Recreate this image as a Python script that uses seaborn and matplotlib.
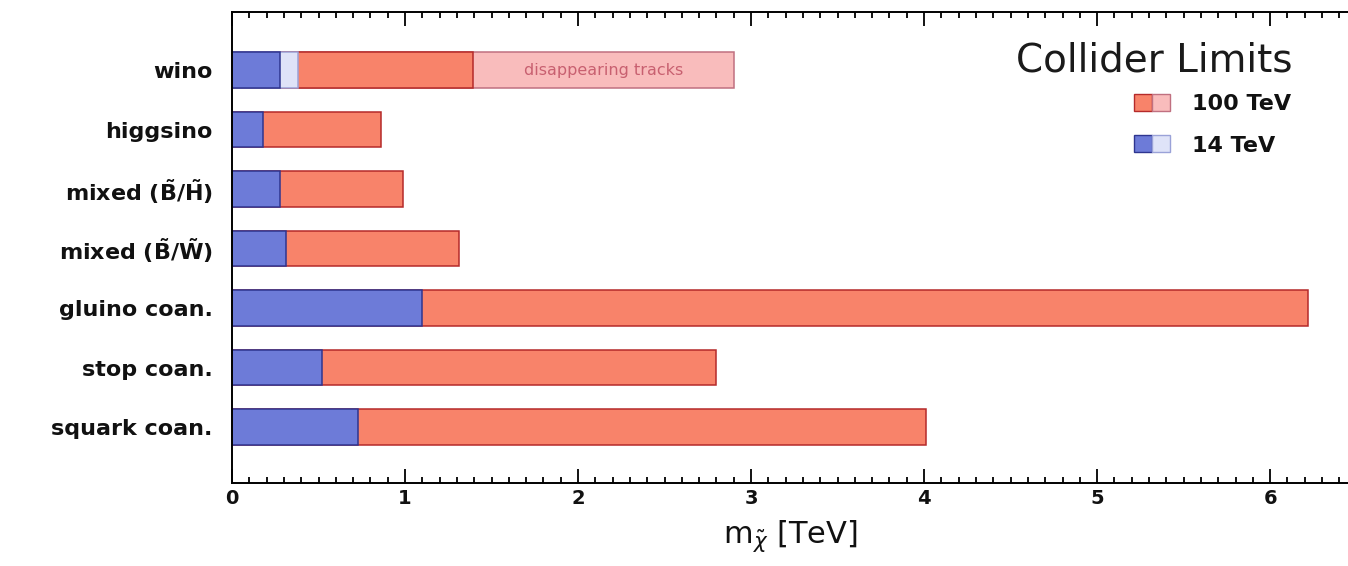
import matplotlib
matplotlib.use("Agg")
import matplotlib.pyplot as plt
from matplotlib.patches import Patch
from matplotlib.legend_handler import HandlerTuple
from matplotlib.ticker import MultipleLocator
import pandas as pd
import seaborn as sns

# ---- data (reach in TeV) ----
categories = [
    "wino",
    "higgsino",
    r"mixed ($\mathbf{\tilde{B}}$/$\mathbf{\tilde{H}}$)",
    r"mixed ($\mathbf{\tilde{B}}$/$\mathbf{\tilde{W}}$)",
    "gluino coan.",
    "stop coan.",
    "squark coan.",
]
reach_14 = [0.28, 0.18, 0.28, 0.31, 1.10, 0.52, 0.73]
reach_100 = [1.39, 0.86, 0.99, 1.31, 6.22, 2.80, 4.01]
# wino: extended reach (disappearing tracks)
wino_14_tracks = 0.38
wino_100_tracks = 2.90
tracks_label = "disappearing tracks"
x_ticks = [0, 1, 2, 3, 4, 5, 6]

sns.set_theme(style="white")
plt.rcParams["font.family"] = ["DejaVu Sans"]
plt.rcParams["mathtext.fontset"] = "dejavusans"

BLUE, BLUE_EDGE = "#6d7bd8", "#2e3590"
LBLUE, LBLUE_EDGE = "#dfe3f8", "#9aa2d8"
RED, RED_EDGE = "#f8836a", "#b52a2a"
PINK, PINK_EDGE = "#f9bcbc", "#c07080"

fig = plt.figure(figsize=(13.48, 5.66), dpi=100)
ax = fig.add_axes([232 / 1348, 83 / 566, 1 - 232 / 1348, (483 - 12) / 566])

df = pd.DataFrame({"cat": categories, "r14": reach_14, "r100": reach_100})
wino_df = pd.DataFrame({"cat": [categories[0]],
                        "r14": [wino_14_tracks], "r100": [wino_100_tracks]})

common = dict(y="cat", order=categories, orient="h", width=0.6,
              saturation=1, errorbar=None, ax=ax, linewidth=1.1)

sns.barplot(data=wino_df, x="r100", color=PINK, edgecolor=PINK_EDGE, **common)
sns.barplot(data=df, x="r100", color=RED, edgecolor=RED_EDGE, **common)
sns.barplot(data=wino_df, x="r14", color=LBLUE, edgecolor=LBLUE_EDGE, **common)
sns.barplot(data=df, x="r14", color=BLUE, edgecolor=BLUE_EDGE, **common)

ax.text((reach_100[0] + wino_100_tracks) / 2, 0, tracks_label,
        ha="center", va="center", fontsize=11.5, color="#c86070")

# axes styling
ax.set_xlim(0, 6.45)
ax.set_ylim(6.94, -0.975)
ax.set_xticks(x_ticks)
ax.set_xticklabels([str(t) for t in x_ticks])
ax.xaxis.set_minor_locator(MultipleLocator(0.1))
ax.tick_params(axis="x", which="both", direction="in", top=True, bottom=True,
               width=1.3, color="black")
ax.tick_params(axis="x", which="major", length=10, labelsize=14, pad=4)
ax.tick_params(axis="x", which="minor", length=4)
for lab in ax.get_xticklabels():
    lab.set_fontweight("bold")
    lab.set_color("#111111")
ax.tick_params(axis="y", length=0, pad=14, labelsize=16)
for lab in ax.get_yticklabels():
    lab.set_fontweight("bold")
    lab.set_color("#111111")

for side in ["left", "bottom", "top"]:
    ax.spines[side].set_visible(True)
    ax.spines[side].set_color("black")
    ax.spines[side].set_linewidth(1.4)
ax.spines["right"].set_visible(False)

ax.set_ylabel("")
ax.set_xlabel(r"m$_{\tilde{\chi}}$ [TeV]", fontsize=22, labelpad=8, color="#111111")

# legend
fig.text(1154 / 1348, 1 - 60 / 566, "Collider Limits", ha="center", va="center",
         fontsize=28, color="#1a1a1a")
handles = [
    (Patch(facecolor=RED, edgecolor=RED_EDGE), Patch(facecolor=PINK, edgecolor=PINK_EDGE)),
    (Patch(facecolor=BLUE, edgecolor=BLUE_EDGE), Patch(facecolor=LBLUE, edgecolor=LBLUE_EDGE)),
]
leg = fig.legend(handles, ["100 TeV", "14 TeV"],
                 handler_map={tuple: HandlerTuple(ndivide=None, pad=0)},
                 loc="upper left", bbox_to_anchor=(1123 / 1348, 1 - 83 / 566),
                 frameon=False, borderpad=0, handlelength=1.6, handleheight=0.8,
                 labelspacing=0.95, handletextpad=1.0,
                 prop={"weight": "bold", "size": 16})
for t in leg.get_texts():
    t.set_color("#111111")

fig.savefig("out.png", dpi=100)
